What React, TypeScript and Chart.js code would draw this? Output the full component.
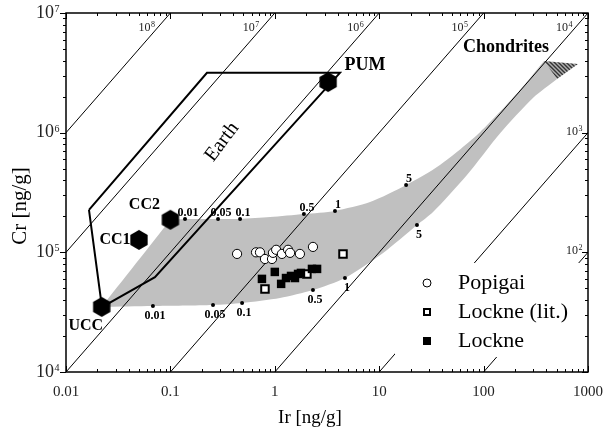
import React, { useEffect, useRef } from 'react';
import { Chart, registerables } from 'chart.js';

Chart.register(...registerables);

const SERIF = '"Liberation Serif", "Times New Roman", serif';

// ---- axes ----
const xTickValues = [0.01, 0.1, 1, 10, 100, 1000];
const xTickLabels = ['0.01', '0.1', '1', '10', '100', '1000'];
const yTickExponents = [4, 5, 6, 7];

// ---- Cr/Ir ratio reference lines (10^n) ----
const ratioExponents = [8, 7, 6, 5, 4, 3, 2];

// ---- samples (Ir ng/g, Cr ng/g) ----
const popigaiIr = [0.435, 0.661, 0.721, 0.805, 0.94, 0.96, 1.03, 1.17, 1.34, 1.4, 1.74, 2.32];
const popigaiCr = [9.7e4, 1.0e5, 1.0e5, 8.8e4, 8.8e4, 9.9e4, 1.05e5, 9.7e4, 1.05e5, 9.9e4, 9.7e4, 1.11e5];

const lockneLitIr = [0.805, 2.03, 4.5];
const lockneLitCr = [4.94e4, 6.6e4, 9.7e4];

const lockneIr = [0.753, 1.0, 1.15, 1.28, 1.43, 1.56, 1.67, 1.78, 2.27, 2.54];
const lockneCr = [6.0e4, 6.86e4, 5.45e4, 6.1e4, 6.35e4, 6.1e4, 6.6e4, 6.73e4, 7.27e4, 7.27e4];

// ---- end-members ----
const endmemberNames = ['PUM', 'CC2', 'CC1', 'UCC'];
const endmemberIr = [3.24, 0.1, 0.05, 0.022];
const endmemberCr = [2.65e6, 1.87e5, 1.27e5, 3.5e4];

// ---- Earth field outline ----
const earthIr = [0.0166, 0.224, 4.21, 0.0711, 0.0221, 0.0166];
const earthCr = [2.26e5, 3.16e6, 3.16e6, 6.2e4, 3.49e4, 2.26e5];

// ---- mixing band (upper curve from CC2, lower curve back to UCC) ----
const bandUpperIr = [0.1, 0.138, 0.286, 0.465, 0.9, 1.9, 3.77, 8.17, 18.1, 38.2, 92.4, 223, 379];
const bandUpperCr = [1.87e5, 1.9e5, 1.9e5, 1.9e5, 1.97e5, 2.09e5, 2.22e5, 2.63e5, 3.65e5, 5.37e5, 1.01e6, 2.27e6, 3.97e6];
const bandLowerIr = [505, 297, 144, 69.3, 32.8, 23.0, 10.9, 4.7, 2.32, 1.12, 0.486, 0.256, 0.068, 0.022];
const bandLowerCr = [2.81e6, 1.95e6, 9.9e5, 4.43e5, 2.17e5, 1.69e5, 9.87e4, 6.1e4, 4.84e4, 4.15e4, 3.77e4, 3.63e4, 3.56e4, 3.5e4];

// ---- chondrite field (hatched) ----
const chondriteIr = [379, 802, 505, 379];
const chondriteCr = [3.97e6, 3.75e6, 2.81e6, 3.97e6];

// ---- mixing proportion ticks along the band ----
const mixLabels = ['0.01', '0.05', '0.1', '0.5', '1', '5'];
const upperMixIr = [0.138, 0.286, 0.465, 1.9, 3.77, 18.1];
const upperMixCr = [1.9e5, 1.9e5, 1.9e5, 2.09e5, 2.22e5, 3.65e5];
const lowerMixIr = [0.068, 0.256, 0.486, 2.32, 4.7, 23.0];
const lowerMixCr = [3.56e4, 3.63e4, 3.77e4, 4.84e4, 6.1e4, 1.69e5];

// ---- annotations ----
const earthLabelIr = 0.312;
const earthLabelCr = 8.36e5;
const chondriteLabelIr = 164;
const chondriteLabelCr = 5.2e6;

const legendNames = ['Popigai', 'Lockne (lit.)', 'Lockne'];

// label offsets (px) for end-member names
const endmemberLabelDx = [37, -26, -24, -16];
const endmemberLabelDy = [-17, -15, 0, 19];

const pts = (xs: number[], ys: number[]) => xs.map((x, i) => ({ x, y: ys[i] }));

function makeHexagon(r: number) {
  const c = document.createElement('canvas');
  const s = Math.ceil(r * 2 + 2);
  c.width = s;
  c.height = s;
  const g = c.getContext('2d')!;
  g.beginPath();
  for (let i = 0; i < 6; i++) {
    const a = Math.PI / 2 + (i * Math.PI) / 3;
    const px = s / 2 + r * Math.cos(a);
    const py = s / 2 + r * Math.sin(a);
    if (i === 0) g.moveTo(px, py);
    else g.lineTo(px, py);
  }
  g.closePath();
  g.fillStyle = '#000';
  g.fill();
  return c;
}

function makeHatchTile() {
  const c = document.createElement('canvas');
  c.width = 4;
  c.height = 4;
  const g = c.getContext('2d')!;
  g.fillStyle = '#b0b0b0';
  g.fillRect(0, 0, 4, 4);
  g.strokeStyle = '#333';
  g.lineWidth = 1.4;
  g.beginPath();
  g.moveTo(-1, -1);
  g.lineTo(5, 5);
  g.moveTo(-1, 3);
  g.lineTo(1, 5);
  g.moveTo(3, -1);
  g.lineTo(5, 1);
  g.stroke();
  return c;
}

function drawPower(ctx: CanvasRenderingContext2D, exp: number, xRight: number, yMid: number, baseSize: number, expSize: number) {
  ctx.textAlign = 'right';
  ctx.textBaseline = 'middle';
  ctx.font = `${baseSize}px ${SERIF}`;
  ctx.fillText('10', xRight, yMid);
  ctx.textAlign = 'left';
  ctx.textBaseline = 'alphabetic';
  ctx.font = `${expSize}px ${SERIF}`;
  ctx.fillText(String(exp), xRight + 0.5, yMid - 1);
}

const decor = {
  id: 'decor',
  afterDatasetsDraw(chart: any) {
    const { ctx, chartArea: a, scales } = chart;
    const xs = scales.x;
    const ys = scales.y;
    ctx.save();

    // legend (white box hides the ratio lines behind it)
    const lx = a.right - 193;
    const ly = a.top + 250;
    ctx.fillStyle = '#fff';
    ctx.fillRect(lx, ly, 190, 94);
    const rows = [ly + 20, ly + 49, ly + 78];
    const sx = lx + 32;
    ctx.beginPath();
    ctx.arc(sx, rows[0], 4, 0, Math.PI * 2);
    ctx.fillStyle = '#fff';
    ctx.fill();
    ctx.lineWidth = 1;
    ctx.strokeStyle = '#000';
    ctx.stroke();
    ctx.lineWidth = 2;
    ctx.strokeRect(sx - 3, rows[1] - 3, 6, 6);
    ctx.fillStyle = '#000';
    ctx.fillRect(sx - 4, rows[2] - 4, 8, 8);
    ctx.font = `22px ${SERIF}`;
    ctx.textAlign = 'left';
    ctx.textBaseline = 'middle';
    legendNames.forEach((n, i) => ctx.fillText(n, lx + 63, rows[i]));

    // frame
    ctx.strokeStyle = '#000';
    ctx.lineWidth = 1.5;
    ctx.strokeRect(a.left, a.top, a.right - a.left, a.bottom - a.top);

    // ticks
    ctx.lineWidth = 1;
    ctx.beginPath();
    for (let d = -2; d <= 3; d++) {
      for (let k = 1; k <= 9; k++) {
        const v = k * Math.pow(10, d);
        if (v > 1000.0001) break;
        const px = Math.round(xs.getPixelForValue(v)) + 0.5;
        const len = k === 1 ? 6 : 3;
        ctx.moveTo(px, a.bottom);
        ctx.lineTo(px, a.bottom - len);
        ctx.moveTo(px, a.top);
        ctx.lineTo(px, a.top + len);
      }
    }
    for (let d = 4; d <= 7; d++) {
      for (let k = 1; k <= 9; k++) {
        const v = k * Math.pow(10, d);
        if (v > 1e7 + 1) break;
        const py = Math.round(ys.getPixelForValue(v)) + 0.5;
        const len = k === 1 ? 6 : 3;
        ctx.moveTo(a.left, py);
        ctx.lineTo(a.left - len, py);
        ctx.moveTo(a.right, py);
        ctx.lineTo(a.right - len, py);
      }
    }
    ctx.stroke();

    // tick labels
    ctx.fillStyle = '#222';
    ctx.font = `15px ${SERIF}`;
    ctx.textAlign = 'center';
    ctx.textBaseline = 'middle';
    xTickValues.forEach((v, i) => ctx.fillText(xTickLabels[i], xs.getPixelForValue(v), a.bottom + 20));
    yTickExponents.forEach((e) => drawPower(ctx, e, a.left - 12, ys.getPixelForValue(Math.pow(10, e)), 18, 10));

    // axis titles
    ctx.fillStyle = '#000';
    ctx.textAlign = 'center';
    ctx.textBaseline = 'middle';
    ctx.font = `19px ${SERIF}`;
    ctx.fillText('Ir [ng/g]', 310, a.bottom + 46);
    ctx.save();
    ctx.translate(20, 206);
    ctx.rotate(-Math.PI / 2);
    ctx.font = `21px ${SERIF}`;
    ctx.fillText('Cr [ng/g]', 0, 0);
    ctx.restore();

    // ratio line labels
    ctx.fillStyle = '#222';
    ratioExponents.forEach((e) => {
      const topIr = Math.pow(10, 7 - e);
      if (topIr <= 1000) {
        const xc = xs.getPixelForValue(topIr);
        drawPower(ctx, e, xc - 20, a.top + 15, 12, 8);
      } else {
        const yc = ys.getPixelForValue(Math.pow(10, e + 3));
        drawPower(ctx, e, a.right - 10, yc - 1, 12, 8);
      }
    });

    // end-member labels
    ctx.fillStyle = '#000';
    endmemberNames.forEach((n, i) => {
      ctx.font = `bold ${i === 0 ? 18 : 16}px ${SERIF}`;
      ctx.textAlign = 'center';
      ctx.textBaseline = 'middle';
      const px = xs.getPixelForValue(endmemberIr[i]) + endmemberLabelDx[i];
      const py = ys.getPixelForValue(endmemberCr[i]) + endmemberLabelDy[i];
      ctx.fillText(n, px, py);
    });

    // Chondrites
    ctx.font = `bold 18px ${SERIF}`;
    ctx.fillText('Chondrites', xs.getPixelForValue(chondriteLabelIr), ys.getPixelForValue(chondriteLabelCr));

    // Earth (rotated)
    ctx.save();
    ctx.translate(xs.getPixelForValue(earthLabelIr), ys.getPixelForValue(earthLabelCr));
    ctx.rotate((-53 * Math.PI) / 180);
    ctx.font = `20px ${SERIF}`;
    ctx.fillText('Earth', 0, 0);
    ctx.restore();

    // mixing proportion labels
    ctx.font = `bold 12px ${SERIF}`;
    ctx.textAlign = 'center';
    ctx.textBaseline = 'alphabetic';
    mixLabels.forEach((t, i) => {
      ctx.fillText(t, xs.getPixelForValue(upperMixIr[i]) + 3, ys.getPixelForValue(upperMixCr[i]) - 3);
    });
    ctx.textBaseline = 'top';
    mixLabels.forEach((t, i) => {
      ctx.fillText(t, xs.getPixelForValue(lowerMixIr[i]) + 2, ys.getPixelForValue(lowerMixCr[i]) + 4);
    });

    ctx.restore();
  },
};

export default function App() {
  const ref = useRef<HTMLCanvasElement>(null);

  useEffect(() => {
    document.body.style.margin = '0';
    const canvas = ref.current!;
    const hex = makeHexagon(10);
    const hatch = canvas.getContext('2d')!.createPattern(makeHatchTile(), 'repeat');

    // closed band outline; corner points repeated so the spline keeps sharp, straight edges there
    const upper = pts(bandUpperIr, bandUpperCr);
    const lower = pts(bandLowerIr, bandLowerCr);
    const band = [...upper, upper[upper.length - 1], lower[0], ...lower, lower[lower.length - 1], upper[0]];

    const lineBase = {
      showLine: true,
      pointRadius: 0,
      pointHoverRadius: 0,
      clip: 0,
    };

    const datasets: any[] = [
      {
        label: 'band',
        data: band,
        ...lineBase,
        tension: 0.25,
        borderWidth: 0,
        borderColor: 'rgba(0,0,0,0)',
        backgroundColor: '#c0c0c0',
        fill: 'shape',
        order: 20,
      },
      {
        label: 'chondrites',
        data: pts(chondriteIr, chondriteCr),
        ...lineBase,
        borderWidth: 0,
        borderColor: 'rgba(0,0,0,0)',
        backgroundColor: hatch,
        fill: 'shape',
        order: 19,
      },
      ...ratioExponents.map((e) => ({
        label: 'ratio' + e,
        data: [
          { x: 1e-3, y: Math.pow(10, e) * 1e-3 },
          { x: 1e4, y: Math.pow(10, e) * 1e4 },
        ],
        ...lineBase,
        borderWidth: 1,
        borderColor: '#000',
        order: 15,
      })),
      {
        label: 'Earth',
        data: pts(earthIr, earthCr),
        ...lineBase,
        borderWidth: 2,
        borderColor: '#000',
        borderJoinStyle: 'miter',
        order: 12,
      },
      {
        label: 'mix upper',
        data: pts(upperMixIr, upperMixCr),
        pointRadius: 2,
        pointBackgroundColor: '#000',
        pointBorderWidth: 0,
        order: 10,
      },
      {
        label: 'mix lower',
        data: pts(lowerMixIr, lowerMixCr),
        pointRadius: 2,
        pointBackgroundColor: '#000',
        pointBorderWidth: 0,
        order: 10,
      },
      {
        label: 'end-members',
        data: pts(endmemberIr, endmemberCr),
        pointStyle: hex,
        pointRadius: 10,
        order: 8,
      },
      {
        label: 'Lockne (lit.)',
        data: pts(lockneLitIr, lockneLitCr),
        pointStyle: 'rect',
        pointRadius: 5.3,
        pointBackgroundColor: '#fff',
        pointBorderColor: '#000',
        pointBorderWidth: 2,
        order: 6,
      },
      {
        label: 'Popigai',
        data: pts(popigaiIr, popigaiCr),
        pointStyle: 'circle',
        pointRadius: 4.6,
        pointBackgroundColor: '#fff',
        pointBorderColor: '#000',
        pointBorderWidth: 1,
        order: 5,
      },
      {
        label: 'Lockne',
        data: pts(lockneIr, lockneCr),
        pointStyle: 'rect',
        pointRadius: 6,
        pointBackgroundColor: '#000',
        pointBorderColor: '#000',
        pointBorderWidth: 0,
        order: 4,
      },
    ];

    const chart = new Chart(canvas, {
      type: 'scatter',
      data: { datasets },
      options: {
        animation: false,
        responsive: false,
        events: [],
        layout: { padding: { left: 66, right: 20, top: 13, bottom: 59 } },
        scales: {
          x: { type: 'logarithmic', min: 0.01, max: 1000, display: false },
          y: { type: 'logarithmic', min: 1e4, max: 1e7, display: false },
        },
        plugins: {
          legend: { display: false },
          tooltip: { enabled: false },
        },
      },
      plugins: [decor],
    } as any);

    return () => chart.destroy();
  }, []);

  return <canvas ref={ref} width={608} height={431} style={{ display: 'block' }} />;
}
